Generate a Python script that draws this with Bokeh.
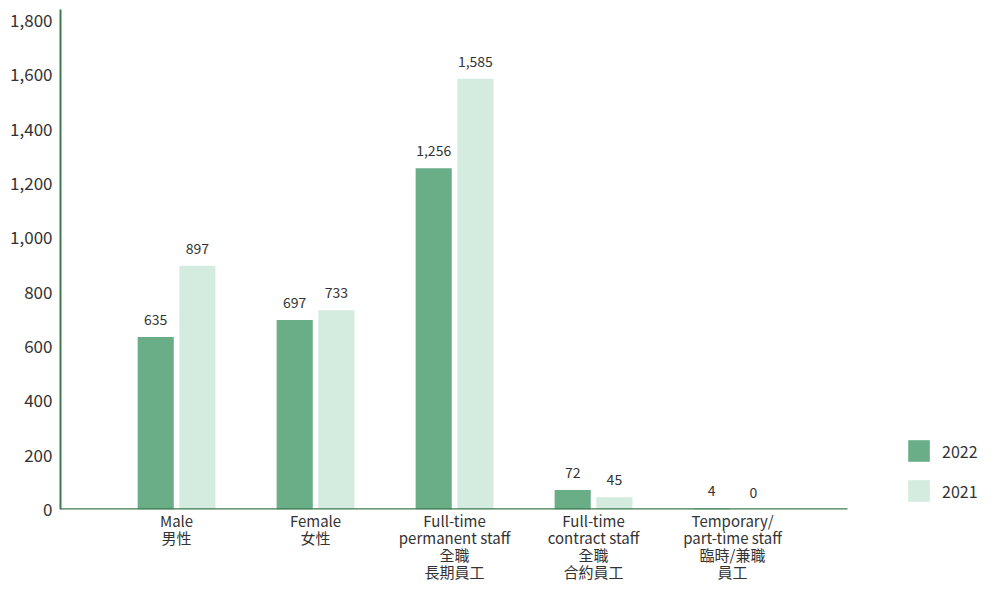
from bokeh.plotting import figure
from bokeh.models import (ColumnDataSource, Range1d, FixedTicker, NumeralTickFormatter,
                          Legend, LegendItem)
from bokeh.core.properties import value
from bokeh.embed import file_html
from bokeh.resources import INLINE

categories = ["Male\n男性", "Female\n女性", "Full-time\npermanent staff\n全職\n長期員工",
              "Full-time\ncontract staff\n全職\n合約員工", "Temporary/\npart-time staff\n臨時/兼職\n員工"]
values_2022 = [635, 697, 1256, 72, 4]
values_2021 = [897, 733, 1585, 45, 0]
series = ["2022", "2021"]
y_ticks = [0, 200, 400, 600, 800, 1000, 1200, 1400, 1600, 1800]

C22 = "#6aae88"
C21 = "#d4ecdf"
AXIS = "#3f7a52"
TXT = "#333333"
FONT = "Noto Sans CJK TC"

XMIN, XAXIS_END, XMAX = -0.835, 4.827, 5.784

xs = list(range(len(categories)))
off = 0.15
w = 0.26

src22 = ColumnDataSource(dict(x=[i - off for i in xs], top=values_2022,
                              lab=[f"{v:,}" for v in values_2022]))
src21 = ColumnDataSource(dict(x=[i + off for i in xs], top=values_2021,
                              lab=[f"{v:,}" for v in values_2021]))

p = figure(width=980, height=585, output_backend="svg", toolbar_location=None,
           x_range=Range1d(XMIN, XMAX), y_range=Range1d(0, 1840),
           min_border_left=60, min_border_top=9, min_border_bottom=70, min_border_right=0)
p.outline_line_color = None
p.grid.grid_line_color = None

r22 = p.vbar(x="x", top="top", width=w, source=src22, fill_color=C22, line_color=None)
r21 = p.vbar(x="x", top="top", width=w, source=src21, fill_color=C21, line_color=None)

# baseline (x-axis line) only as long as the category area
p.segment(x0=[XMIN], x1=[XAXIS_END], y0=[0], y1=[0], line_color=AXIS, line_width=2.5)

for s in (src22, src21):
    p.text(x="x", y="top", text="lab", source=s, y_offset=-12,
           text_align="center", text_baseline="bottom", text_font=value(FONT),
           text_font_size="14px", text_color=TXT)

p.yaxis.ticker = FixedTicker(ticks=y_ticks)
p.yaxis.formatter = NumeralTickFormatter(format="0,0")
p.yaxis.major_tick_line_color = None
p.yaxis.minor_tick_line_color = None
p.yaxis.major_tick_out = 0
p.yaxis.major_tick_in = 0
p.yaxis.minor_tick_out = 0
p.yaxis.axis_line_color = AXIS
p.yaxis.axis_line_width = 2
p.yaxis.major_label_text_font = FONT
p.yaxis.major_label_text_font_size = "17px"
p.yaxis.major_label_text_color = TXT
p.yaxis.major_label_standoff = 8

p.xaxis.ticker = FixedTicker(ticks=xs)
p.xaxis.major_label_overrides = {i: c for i, c in zip(xs, categories)}
p.xaxis.major_tick_line_color = None
p.xaxis.minor_tick_line_color = None
p.xaxis.major_tick_out = 0
p.xaxis.major_tick_in = 0
p.xaxis.minor_tick_out = 0
p.xaxis.axis_line_color = None
p.xaxis.major_label_text_font = FONT
p.xaxis.major_label_text_font_size = "15px"
p.xaxis.major_label_text_color = TXT
p.xaxis.major_label_text_line_height = 0.82
p.xaxis.major_label_standoff = 0

legend = Legend(items=[LegendItem(label=series[0], renderers=[r22]),
                       LegendItem(label=series[1], renderers=[r21])],
                location=(845, 5), orientation="vertical")
legend.glyph_width = 27
legend.glyph_height = 27
legend.spacing = 13
legend.label_standoff = 10
legend.label_text_font = FONT
legend.label_text_font_size = "16px"
legend.label_text_color = TXT
legend.border_line_color = None
legend.background_fill_alpha = 0
legend.margin = 0
legend.padding = 0
p.add_layout(legend, "center")

open("out.html", "w").write(file_html(p, INLINE))
